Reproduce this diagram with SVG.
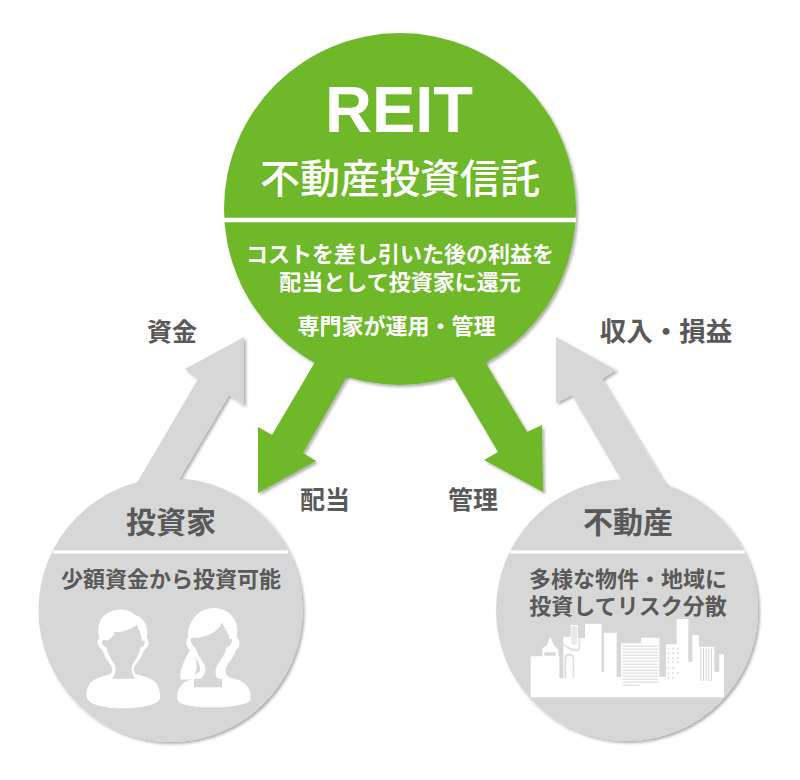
<svg xmlns="http://www.w3.org/2000/svg" width="800" height="780" viewBox="0 0 800 780">
  <defs>
    <filter id="sh" x="-20%" y="-20%" width="140%" height="140%">
      <feDropShadow dx="2" dy="2" stdDeviation="1.6" flood-color="#000" flood-opacity="0.32"/>
    </filter>
    <filter id="soft" x="-5%" y="-5%" width="110%" height="110%">
      <feGaussianBlur stdDeviation="0.45"/>
    </filter>
    <clipPath id="outside">
      <path clip-rule="evenodd" d="M0 0H800V780H0Z M224.500 209a175.500 175.500 0 1 0 351 0a175.500 175.500 0 1 0 -351 0Z M39 610a131.500 131.500 0 1 0 263 0a131.500 131.500 0 1 0 -263 0Z M496.500 610a130.500 130.500 0 1 0 261 0a130.500 130.500 0 1 0 -261 0Z"/>
    </clipPath>
  </defs>
  <style>
    text { font-family: "Noto Sans CJK JP", "Noto Sans", sans-serif; text-anchor: middle; font-weight: 700; }
    .green { fill: #6eb82b; }
    .gray { fill: #d7d7d7; }
    .w { fill: #ffffff; }
    .d { fill: #595959; }
    .rule { stroke: #ffffff; fill: none; }
    .t22 { font-size: 22px; }
    .lab { font-size: 25px; }
    .h { font-size: 30px; }
    .gap { fill: #d7d7d7; }
  </style>

  <g id="node-reit">
    <circle class="green" cx="400" cy="209" r="176" filter="url(#sh)"/>
    <line class="rule" x1="224" y1="220" x2="576" y2="220" stroke-width="4.500"/>
    <text class="w" x="399" y="132" style="font-family:'Liberation Sans',sans-serif;font-size:65px">REIT</text>
    <text class="w" x="400" y="193" style="font-size:40px;font-weight:500">不動産投資信託</text>
    <text class="w t22" x="400" y="262">コストを差し引いた後の利益を</text>
    <text class="w t22" x="400" y="290">配当として投資家に還元</text>
    <text class="w t22" x="396.500" y="334">専門家が運用・管理</text>
  </g>

  <g id="node-investor">
    <circle class="gray" cx="170.500" cy="610" r="132" filter="url(#sh)"/>
    <line class="rule" x1="53" y1="552" x2="288" y2="552" stroke-width="3"/>
    <text class="d h" x="171" y="533">投資家</text>
    <text class="d t22" x="171" y="587">少額資金から投資可能</text>
    <g transform="translate(80 600) scale(0.3333)" filter="url(#soft)">
      <path class="w" d="M20 290C18 262 30 242 60 232L92 222C100 214 98 204 90 192C78 176 72 165 68 150C54 142 48 126 58 114C50 86 56 56 82 40C110 22 150 26 166 46C192 52 208 82 200 114C210 126 206 144 192 150C188 165 180 178 168 192C160 204 158 214 168 222L200 232C230 242 242 264 240 294C240 314 180 325 130 325C80 325 20 314 20 290Z"/>
      <path class="gap" d="M66 124C64 132 72 142 79 140C82 160 92 176 102 190C110 204 108 222 96 236L166 236C154 222 152 204 160 190C170 176 178 160 182 140C190 142 196 132 194 122C192 120 189 122 186 124C186 108 178 90 170 74C150 90 124 98 100 96C112 102 92 112 82 122C78 120 70 118 66 124Z"/>
      <path class="w" d="M292 296C288 268 306 244 340 236C325 238 312 240 302 238C296 212 316 176 330 150C318 140 316 122 324 110C322 72 350 24 402 24C450 24 482 66 470 112C482 122 482 142 468 150C462 170 452 180 442 194C434 208 434 222 448 232L476 240C502 250 514 272 512 298C512 312 460 322 400 322C340 322 292 314 292 296Z"/>
      <path class="gap" d="M332 116C330 126 340 140 346 142C352 164 362 176 372 192C380 208 376 226 362 236L342 236L342 262L426 262L426 236L414 236C404 226 404 208 414 192C426 176 434 164 440 142C450 140 458 126 456 116L450 118C446 100 434 84 426 68C414 92 390 108 348 114C342 112 336 112 332 116Z"/>
      <path class="gap" d="M344 168C352 184 364 196 360 214L344 226C352 208 352 188 344 168Z"/>
    </g>
  </g>

  <g id="node-property">
    <circle class="gray" cx="627" cy="610" r="131" filter="url(#sh)"/>
    <line class="rule" x1="510" y1="552" x2="745" y2="552" stroke-width="3"/>
    <text class="d h" x="628" y="533">不動産</text>
    <text class="d t22" x="628" y="587">多様な物件・地域に</text>
    <text class="d t22" x="628" y="614">投資してリスク分散</text>
    <g transform="translate(525 615) scale(0.3333)" filter="url(#soft)">
      <path class="w" d="M17 247V124H52V100L66 90L76 65L86 90L100 104V124H103V190H115V65H137V30H158V70H180V26H230V172H237V53H275V185H288V85H348V68H403V185H423V88H455V12H490V140H502V60H522V95H568V170H583V118H597V247Z"/>
      <g class="gap">
        <rect x="58" y="112" width="34" height="10"/>
        <rect x="139" y="33" width="17" height="55" opacity="0.55"/>
        <path d="M118 190V128C118 112 148 112 148 128V190H143V130C143 120 124 120 124 130V190Z" opacity="0.8"/>
        <path d="M160 72H166V98C166 112 148 110 136 106L116 92V86L136 98C146 102 160 104 160 96Z" opacity="0.7"/>
        <rect x="292" y="92" width="108" height="3"/><rect x="292" y="101" width="108" height="3"/><rect x="292" y="110" width="108" height="3"/><rect x="292" y="119" width="108" height="3"/><rect x="292" y="128" width="108" height="3"/><rect x="292" y="137" width="108" height="3"/><rect x="292" y="146" width="108" height="3"/><rect x="292" y="155" width="108" height="3"/><rect x="292" y="164" width="108" height="3"/><rect x="292" y="173" width="108" height="3"/><rect x="292" y="182" width="108" height="3"/><rect x="292" y="191" width="108" height="3"/><rect x="292" y="200" width="108" height="3"/><rect x="292" y="209" width="52" height="3"/>
        <rect x="428" y="98" width="5" height="5"/><rect x="442" y="98" width="5" height="5"/><rect x="456" y="98" width="5" height="5"/><rect x="428" y="112" width="5" height="5"/><rect x="442" y="112" width="5" height="5"/><rect x="456" y="112" width="5" height="5"/><rect x="428" y="126" width="5" height="5"/><rect x="442" y="126" width="5" height="5"/><rect x="456" y="126" width="5" height="5"/><rect x="428" y="140" width="5" height="5"/><rect x="442" y="140" width="5" height="5"/><rect x="456" y="140" width="5" height="5"/><rect x="428" y="156" width="5" height="5"/><rect x="442" y="156" width="5" height="5"/><rect x="428" y="172" width="5" height="5"/><rect x="442" y="172" width="5" height="5"/><rect x="456" y="172" width="5" height="5"/><rect x="428" y="186" width="5" height="5"/><rect x="442" y="186" width="5" height="5"/>
        <rect x="526" y="100" width="3" height="98"/><rect x="534" y="100" width="3" height="98"/><rect x="542" y="100" width="3" height="98"/><rect x="550" y="100" width="3" height="98"/><rect x="558" y="100" width="3" height="98"/>
      </g>
    </g>
  </g>

  <g id="connectors" clip-path="url(#outside)">
    <polygon class="gray" filter="url(#sh)" points="244,337 244,405 229,395 165,503 125,503 198,379 185,369"/>
    <polygon class="gray" filter="url(#sh)" points="556,337 556,403 572,395 635,503 677,503 602,379 616,370"/>
    <polygon class="green" filter="url(#sh)" points="325,345 365,345 303,453 316,461 258,493 258,427 272,435"/>
    <polygon class="green" filter="url(#sh)" points="475,345 435,345 498,452 484,460 543,492 542,425 527,432"/>
  </g>

  <g id="labels">
    <text class="d lab" x="172" y="341">資金</text>
    <text class="d" x="666" y="341" style="font-size:26.500px">収入・損益</text>
    <text class="d lab" x="325" y="509">配当</text>
    <text class="d lab" x="473" y="509">管理</text>
  </g>
</svg>
